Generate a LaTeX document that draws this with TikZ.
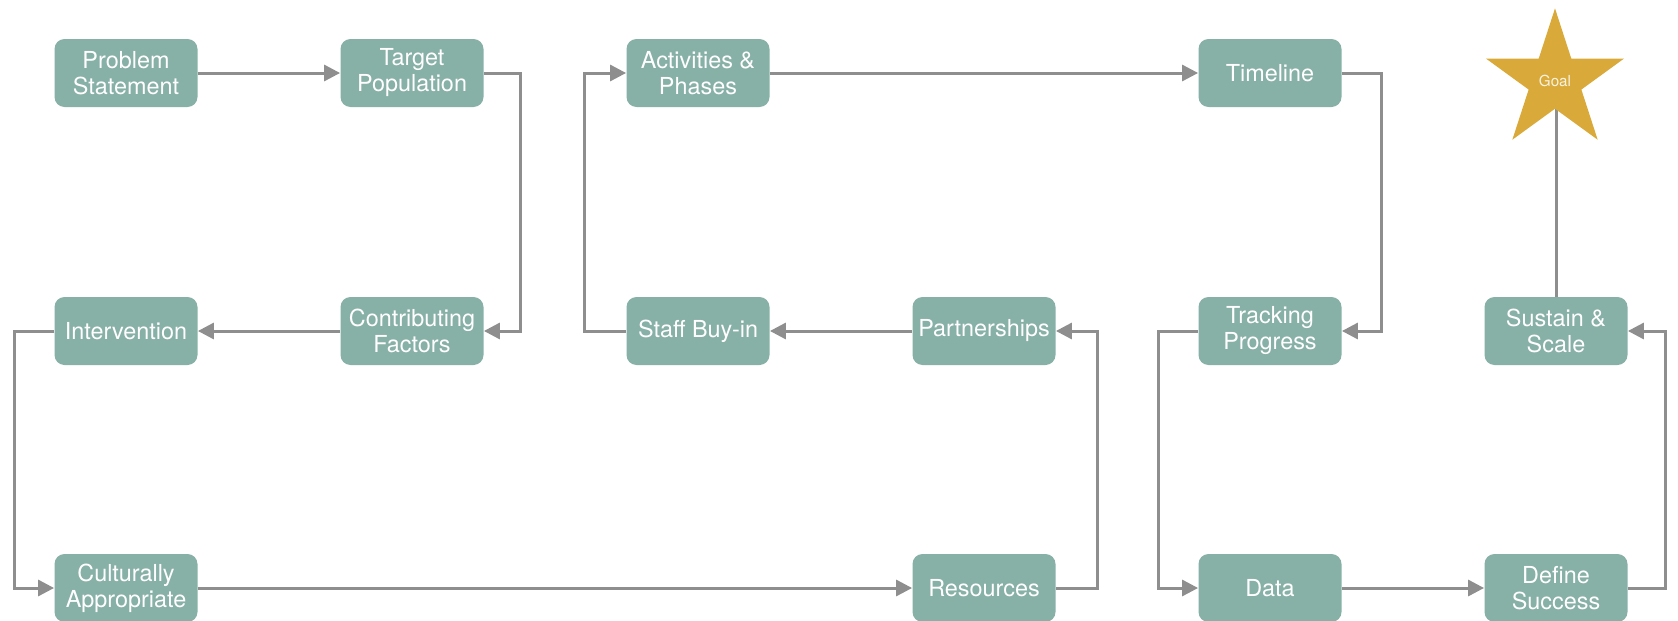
\documentclass[tikz,border=0pt]{standalone}
\usepackage{fontspec}
\setmainfont{TeX Gyre Heros}
\usetikzlibrary{
    arrows.meta,
    shapes.geometric
}
\definecolor{box teal}{RGB}{135,176,166}
\definecolor{line gray}{RGB}{142,142,142}
\definecolor{goal gold}{RGB}{217,170,58}
\tikzset{
    % Boxes
    phase box/.style={fill=box teal,text=white,rounded corners=5pt,minimum width=71.5pt,minimum height=34pt,inner sep=1pt,align=center,font=\fontsize{11.7}{13}\selectfont},
    goal star/.style={star,star points=5,star point ratio=2.618,fill=goal gold,minimum size=72.6pt,inner sep=0pt,text=white!85!goal gold,font=\fontsize{7.6}{9}\selectfont},
    %
    % Arrows
    arrow tip/.tip={Triangle[length=8pt,width=8pt]},
    link/.style={line gray,line width=1.5pt},
    arr/.style={link,-{arrow tip}}
}

\begin{document}
\begin{tikzpicture}[x=0.5pt,y=-0.5pt]
    \useasboundingbox (0,0) rectangle (1678,621);

    % top row
    \node[phase box] (problem) at (126,73) {Problem\\Statement};
    \node[phase box] (target) at (412,73) {Target\\Population};
    \node[phase box] (activities) at (698,73) {Activities \&\\Phases};
    \node[phase box] (timeline) at (1270,73) {Timeline};

    % middle row
    \node[phase box] (intervention) at (126,331) {Intervention};
    \node[phase box] (contributing) at (412,331) {Contributing\\Factors};
    \node[phase box] (staff) at (698,331) {Staff Buy-in};
    \node[phase box] (partnerships) at (984,331) {Partnerships};
    \node[phase box] (tracking) at (1270,331) {Tracking\\Progress};
    \node[phase box] (sustain) at (1556,331) {Sustain \&\\Scale};

    % bottom row
    \node[phase box] (cultural) at (126,588) {Culturally\\Appropriate};
    \node[phase box] (resources) at (984,588) {Resources};
    \node[phase box] (data) at (1270,588) {Data};
    \node[phase box] (define) at (1556,588) {Define\\Success};

    % the goal
    \draw[link] (sustain.north) -- (1556,100);
    \node[goal star] (goal) at (1555,81) {Goal};

    \draw[arr] (problem) -- (target);
    \draw[arr] (target.east) -- ++(37,0) |- (contributing.east);
    \draw[arr] (contributing) -- (intervention);
    \draw[arr] (intervention.west) -- ++(-40,0) |- (cultural.west);
    \draw[arr] (cultural) -- (resources);
    \draw[arr] (resources.east) -- ++(42,0) |- (partnerships.east);
    \draw[arr] (partnerships) -- (staff);
    \draw[arr] (staff.west) -- ++(-42,0) |- (activities.west);
    \draw[arr] (activities) -- (timeline);
    \draw[arr] (timeline.east) -- ++(40,0) |- (tracking.east);
    \draw[arr] (tracking.west) -- ++(-40,0) |- (data.west);
    \draw[arr] (data) -- (define);
    \draw[arr] (define.east) -- ++(38,0) |- (sustain.east);
\end{tikzpicture}
\end{document}
